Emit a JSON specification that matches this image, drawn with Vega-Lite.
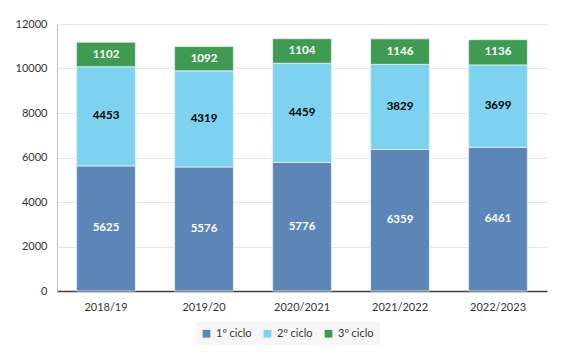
{
  "$schema": "https://vega.github.io/schema/vega-lite/v6.json",
  "width": 490,
  "height": 267,
  "autosize": {"type": "none"},
  "padding": {"left": 57, "top": 24, "right": 20, "bottom": 66},
  "background": "white",
  "config": {"view": {"stroke": null}, "font": "Lato"},
  "data": {
    "values": [
      {"ano": "2018/19", "ciclo": "1º ciclo", "valor": 5625},
      {"ano": "2018/19", "ciclo": "2º ciclo", "valor": 4453},
      {"ano": "2018/19", "ciclo": "3º ciclo", "valor": 1102},
      {"ano": "2019/20", "ciclo": "1º ciclo", "valor": 5576},
      {"ano": "2019/20", "ciclo": "2º ciclo", "valor": 4319},
      {"ano": "2019/20", "ciclo": "3º ciclo", "valor": 1092},
      {"ano": "2020/2021", "ciclo": "1º ciclo", "valor": 5776},
      {"ano": "2020/2021", "ciclo": "2º ciclo", "valor": 4459},
      {"ano": "2020/2021", "ciclo": "3º ciclo", "valor": 1104},
      {"ano": "2021/2022", "ciclo": "1º ciclo", "valor": 6359},
      {"ano": "2021/2022", "ciclo": "2º ciclo", "valor": 3829},
      {"ano": "2021/2022", "ciclo": "3º ciclo", "valor": 1146},
      {"ano": "2022/2023", "ciclo": "1º ciclo", "valor": 6461},
      {"ano": "2022/2023", "ciclo": "2º ciclo", "valor": 3699},
      {"ano": "2022/2023", "ciclo": "3º ciclo", "valor": 1136}
    ]
  },
  "transform": [
    {"stack": "valor", "groupby": ["ano"], "sort": [{"field": "ciclo", "order": "ascending"}], "as": ["v0", "v1"]}
  ],
  "encoding": {
    "x": {
      "field": "ano", "type": "ordinal", "sort": null, "title": null,
      "scale": {"paddingInner": 0.4, "paddingOuter": 0.2},
      "axis": {"labelAngle": 0, "ticks": false, "domainColor": "#404040", "domainWidth": 1.5, "labelPadding": 10, "labelFontSize": 11, "labelColor": "#333333"}
    }
  },
  "layer": [
    {
      "mark": {"type": "bar", "stroke": "#e8f0f8", "strokeWidth": 0.8},
      "encoding": {
        "y": {
          "field": "v0", "type": "quantitative", "title": null,
          "scale": {"domain": [0, 12000], "nice": false},
          "axis": {"values": [0, 2000, 4000, 6000, 8000, 10000, 12000], "format": "d", "ticks": false, "domainColor": "#bfbfbf", "gridColor": "#e6e6e6", "labelPadding": 10, "labelFontSize": 11, "labelColor": "#333333"}
        },
        "y2": {"field": "v1"},
        "color": {
          "field": "ciclo", "type": "nominal",
          "scale": {"domain": ["1º ciclo", "2º ciclo", "3º ciclo"], "range": ["#5b86b7", "#7dd3ef", "#409b52"]},
          "legend": {
            "orient": "none", "legendX": 138, "legendY": 298, "direction": "horizontal", "title": null,
            "symbolType": "square", "symbolSize": 60, "symbolStrokeWidth": 0, "labelFontSize": 11, "labelColor": "#333333",
            "columnPadding": 10, "fillColor": "#f6f6f6", "padding": 6
          }
        }
      }
    },
    {
      "transform": [{"calculate": "(datum.v0 + datum.v1) / 2", "as": "vmid"}],
      "mark": {"type": "text", "fontWeight": "bold", "fontSize": 11.5},
      "encoding": {
        "y": {"field": "vmid", "type": "quantitative"},
        "text": {"field": "valor", "type": "quantitative", "format": "d"},
        "color": {"condition": {"test": "datum.ciclo === '2º ciclo'", "value": "black"}, "value": "white"}
      }
    }
  ]
}
